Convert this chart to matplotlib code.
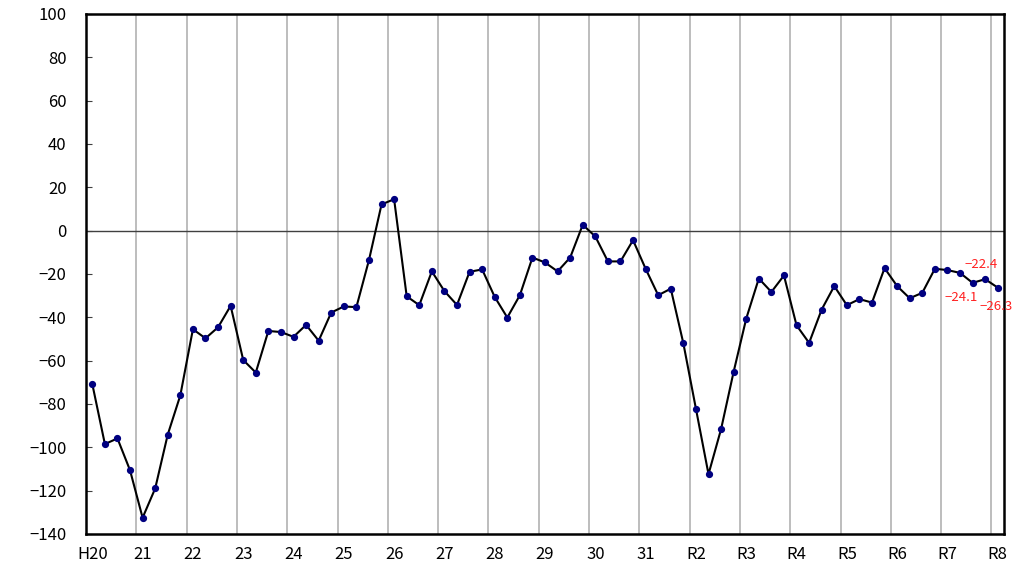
import numpy as np
import matplotlib.pyplot as plt

plt.rcParams['font.family'] = ['Noto Sans CJK JP', 'DejaVu Sans']

# quarterly values, H20 Q1 .. R8 Q1
values = [-70.8, -98.5, -95.9, -110.6,
          -132.5, -119.0, -94.1, -76.0,
          -45.5, -49.7, -44.6, -34.7,
          -59.7, -65.5, -46.3, -46.8,
          -49.0, -43.5, -50.8, -37.8,
          -35.0, -35.3, -13.6, 12.1,
          14.5, -30.3, -34.4, -18.8,
          -27.9, -34.3, -19.0, -17.9,
          -30.6, -40.1, -29.8, -12.4,
          -14.7, -18.8, -12.4, 2.7,
          -2.7, -14.2, -14.2, -4.4,
          -17.6, -29.8, -26.8, -52.0,
          -82.2, -112.4, -91.6, -65.1,
          -40.6, -22.1, -28.3, -20.7,
          -43.7, -51.8, -36.4, -25.6,
          -34.4, -31.6, -33.2, -17.3,
          -25.6, -31.2, -28.7, -17.6,
          -18.2, -19.5, -24.1, -22.4,
          -26.3]

year_labels = ['H20', '21', '22', '23', '24', '25', '26', '27', '28', '29',
               '30', '31', 'R2', 'R3', 'R4', 'R5', 'R6', 'R7', 'R8']

x = np.arange(len(values))

fig = plt.figure(figsize=(10.24, 5.82), dpi=100)
ax = fig.add_axes([0.084, 0.0825, 0.8965, 0.8935])

# year separators
for b in np.arange(3.5, len(values) - 1, 4):
    ax.axvline(b, color='#ababab', lw=1.1, zorder=1)
ax.axhline(0, color='#404040', lw=1.0, zorder=1)

ax.plot(x, values, color='black', lw=1.5, zorder=2)
ax.plot(x, values, 'o', color='#000080', ms=4.2, zorder=3)

# labels for last three points
offsets = [(-8, -6), (-3, 6), (-1, -9)]
for i, (dx, dy) in zip(range(len(values) - 3, len(values)), offsets):
    va = 'bottom' if dy > 0 else 'top'
    ax.annotate(f"{values[i]:.1f}".replace('-', '\u2212'), (x[i], values[i]),
                xytext=(dx, dy), textcoords='offset points', color='#ff2020',
                fontsize=9.5, ha='center', va=va, zorder=4)

ax.set_xlim(-0.5, len(values) - 0.5)
ax.set_ylim(-140, 100)
ax.set_yticks(np.arange(-140, 101, 20))
ax.set_xticks(x[::4])
ax.set_xticklabels(year_labels)
ax.tick_params(axis='y', direction='in', length=4, width=0.8, color='#404040',
               labelsize=12, pad=14)
ax.tick_params(axis='x', length=0, labelsize=12, pad=9)
for s in ax.spines.values():
    s.set_linewidth(1.8)
    s.set_color('black')

plt.savefig('out.png', dpi=100)
